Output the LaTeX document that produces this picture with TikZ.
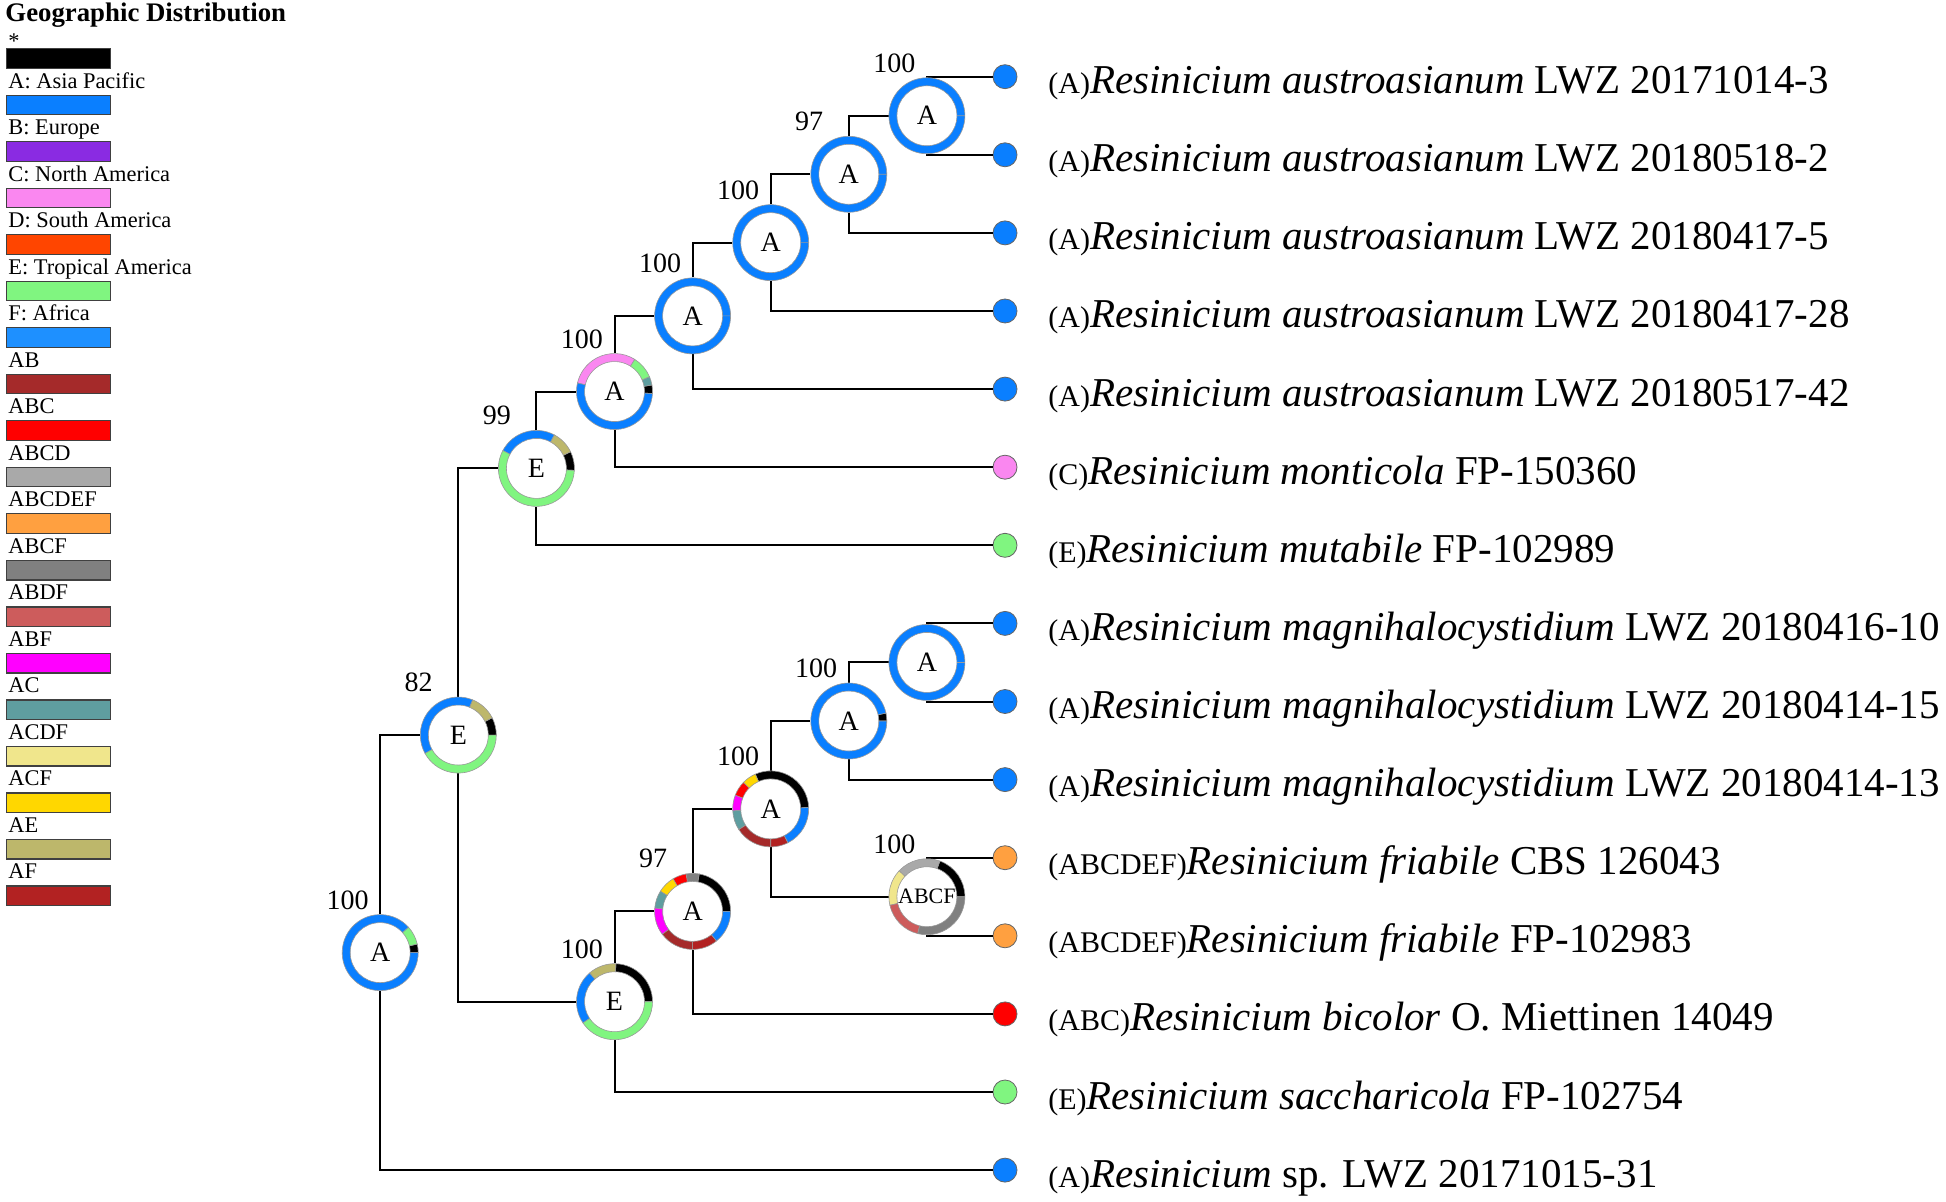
\documentclass[tikz,border=0pt]{standalone}
\usepackage{fontspec}
\setmainfont{Liberation Serif}
\usetikzlibrary{calc}
\definecolor{colA}{RGB}{10,127,255}
\definecolor{colB}{RGB}{138,43,226}
\definecolor{colC}{RGB}{250,135,240}
\definecolor{colD}{RGB}{255,69,0}
\definecolor{colE}{RGB}{128,245,128}
\definecolor{colF}{RGB}{30,144,255}
\definecolor{colAB}{RGB}{165,42,42}
\definecolor{colABC}{RGB}{255,0,0}
\definecolor{colABCD}{RGB}{169,169,169}
\definecolor{colABCDEF}{RGB}{255,160,64}
\definecolor{colABCF}{RGB}{128,128,128}
\definecolor{colABDF}{RGB}{205,92,92}
\definecolor{colABF}{RGB}{255,0,255}
\definecolor{colAC}{RGB}{95,158,160}
\definecolor{colACDF}{RGB}{240,230,140}
\definecolor{colACF}{RGB}{255,215,0}
\definecolor{colAE}{RGB}{189,183,107}
\definecolor{colAF}{RGB}{178,34,34}
\def\ringseg[#1](#2)(#3:#4){\fill[#1,draw=black!40,line width=0.3pt] ($(#2)+(#3:19pt)$) arc (#3:#4:19pt) -- ($(#2)+(#4:15pt)$) arc (#4:#3:15pt) -- cycle;}
\newcommand{\reg}[1]{{\fontsize{15}{15}\selectfont(#1)}}

\begin{document}
\begin{tikzpicture}[x=0.5pt,y=-0.5pt,
	branch/.style={line width=1pt,black},
	anc/.style={circle,fill=white,inner sep=0pt,minimum size=38pt,font=\fontsize{14}{14}\selectfont},
	tip/.style={circle,draw=black!60,line width=0.4pt,inner sep=0pt,minimum size=12pt},
	bs/.style={anchor=base west,inner sep=0pt,font=\fontsize{14}{14}\selectfont},
	tiplab/.style={anchor=base west,inner sep=0pt,font=\fontsize{20.5}{20.5}\selectfont},
	legbar/.style={draw=black!75,line width=0.6pt,inner sep=0pt,minimum width=52pt,minimum height=9.75pt,anchor=north west},
	leglab/.style={anchor=base west,inner sep=0pt,font=\fontsize{11.2}{12}\selectfont}]
		%%%%% LEGEND %%%%%
		\useasboundingbox (0,0) rectangle (1946,1202);
		
		\node[anchor=base west,inner sep=0pt,font=\bfseries\fontsize{13.4}{14}\selectfont] (legtitle) at (5,21.7) {Geographic Distribution};
		\foreach \lab/\col [count=\i from 0] in {{\raisebox{-3.5pt}{*}}/black,A: Asia Pacific/colA,B: Europe/colB,C: North America/colC,D: South America/colD,E: Tropical America/colE,F: Africa/colF,AB/colAB,ABC/colABC,ABCD/colABCD,ABCDEF/colABCDEF,ABCF/colABCF,ABDF/colABDF,ABF/colABF,AC/colAC,ACDF/colACDF,ACF/colACF,AE/colAE,AF/colAF}{
			\node[legbar,fill=\col] (bar\i) at (6,{48.3+46.5*\i}) {};
			\node[leglab] (leg\i) at (8,{41.6+46.5*\i}) {\lab};
		}
		
		%%%%% TIPS %%%%%
		\node[tip,fill=colA] (t0) at (1005,76.7) {};
		\node[tip,fill=colA] (t1) at (1005,154.8) {};
		\node[tip,fill=colA] (t2) at (1005,232.9) {};
		\node[tip,fill=colA] (t3) at (1005,311.0) {};
		\node[tip,fill=colA] (t4) at (1005,389.1) {};
		\node[tip,fill=colC] (t5) at (1005,467.2) {};
		\node[tip,fill=colE] (t6) at (1005,545.3) {};
		\node[tip,fill=colA] (t7) at (1005,623.4) {};
		\node[tip,fill=colA] (t8) at (1005,701.5) {};
		\node[tip,fill=colA] (t9) at (1005,779.6) {};
		\node[tip,fill=colABCDEF] (t10) at (1005,857.7) {};
		\node[tip,fill=colABCDEF] (t11) at (1005,935.8) {};
		\node[tip,fill=colABC] (t12) at (1005,1013.9) {};
		\node[tip,fill=colE] (t13) at (1005,1092.0) {};
		\node[tip,fill=colA] (t14) at (1005,1170.1) {};
		
		\node[tiplab] (l0) at ([shift={(21.5pt,-8.5pt)}]t0.center) {\reg{A}\textit{Resinicium austroasianum} LWZ 20171014-3};
		\node[tiplab] (l1) at ([shift={(21.5pt,-8.5pt)}]t1.center) {\reg{A}\textit{Resinicium austroasianum} LWZ 20180518-2};
		\node[tiplab] (l2) at ([shift={(21.5pt,-8.5pt)}]t2.center) {\reg{A}\textit{Resinicium austroasianum} LWZ 20180417-5};
		\node[tiplab] (l3) at ([shift={(21.5pt,-8.5pt)}]t3.center) {\reg{A}\textit{Resinicium austroasianum} LWZ 20180417-28};
		\node[tiplab] (l4) at ([shift={(21.5pt,-8.5pt)}]t4.center) {\reg{A}\textit{Resinicium austroasianum} LWZ 20180517-42};
		\node[tiplab] (l5) at ([shift={(21.5pt,-8.5pt)}]t5.center) {\reg{C}\textit{Resinicium monticola} FP-150360};
		\node[tiplab] (l6) at ([shift={(21.5pt,-8.5pt)}]t6.center) {\reg{E}\textit{Resinicium mutabile} FP-102989};
		\node[tiplab] (l7) at ([shift={(21.5pt,-8.5pt)}]t7.center) {\reg{A}\textit{Resinicium magnihalocystidium} LWZ 20180416-10};
		\node[tiplab] (l8) at ([shift={(21.5pt,-8.5pt)}]t8.center) {\reg{A}\textit{Resinicium magnihalocystidium} LWZ 20180414-15};
		\node[tiplab] (l9) at ([shift={(21.5pt,-8.5pt)}]t9.center) {\reg{A}\textit{Resinicium magnihalocystidium} LWZ 20180414-13};
		\node[tiplab] (l10) at ([shift={(21.5pt,-8.5pt)}]t10.center) {\reg{ABCDEF}\textit{Resinicium friabile} CBS 126043};
		\node[tiplab] (l11) at ([shift={(21.5pt,-8.5pt)}]t11.center) {\reg{ABCDEF}\textit{Resinicium friabile} FP-102983};
		\node[tiplab] (l12) at ([shift={(21.5pt,-8.5pt)}]t12.center) {\reg{ABC}\textit{Resinicium bicolor} O. Miettinen 14049};
		\node[tiplab] (l13) at ([shift={(21.5pt,-8.5pt)}]t13.center) {\reg{E}\textit{Resinicium saccharicola} FP-102754};
		\node[tiplab] (l14) at ([shift={(21.5pt,-8.5pt)}]t14.center) {\reg{A}\textit{Resinicium} sp. LWZ 20171015-31};
		
		%%%%% ANCESTRAL NODES %%%%%
		\node[anc] (aus1) at (926.9,115.75) {A};
		\node[anc] (aus2) at (848.8,174.3) {A};
		\node[anc] (aus3) at (770.7,242.65) {A};
		\node[anc] (aus4) at (692.6,315.9) {A};
		\node[anc] (monA) at (614.5,391.55) {A};
		\node[anc] (mutE) at (536.4,468.4) {E};
		\node[anc] (magA) at (926.9,662.45) {A};
		\node[anc] (magB) at (848.8,721.0) {A};
		\node[anc,font=\fontsize{11}{11}\selectfont] (abcf) at (926.9,896.75) {ABCF};
		\node[anc] (friA) at (770.7,808.9) {A};
		\node[anc] (bicA) at (692.6,911.4) {A};
		\node[anc] (sacE) at (614.5,1001.7) {E};
		\node[anc] (midE) at (458.3,735.05) {E};
		\node[anc] (root) at (380.2,952.6) {A};
		
		\draw[branch] (aus1) |- (t0);
		\draw[branch] (aus1) |- (t1);
		\draw[branch] (aus2) |- (aus1);
		\draw[branch] (aus2) |- (t2);
		\draw[branch] (aus3) |- (aus2);
		\draw[branch] (aus3) |- (t3);
		\draw[branch] (aus4) |- (aus3);
		\draw[branch] (aus4) |- (t4);
		\draw[branch] (monA) |- (aus4);
		\draw[branch] (monA) |- (t5);
		\draw[branch] (mutE) |- (monA);
		\draw[branch] (mutE) |- (t6);
		\draw[branch] (magA) |- (t7);
		\draw[branch] (magA) |- (t8);
		\draw[branch] (magB) |- (magA);
		\draw[branch] (magB) |- (t9);
		\draw[branch] (abcf) |- (t10);
		\draw[branch] (abcf) |- (t11);
		\draw[branch] (friA) |- (magB);
		\draw[branch] (friA) |- (abcf);
		\draw[branch] (bicA) |- (friA);
		\draw[branch] (bicA) |- (t12);
		\draw[branch] (sacE) |- (bicA);
		\draw[branch] (sacE) |- (t13);
		\draw[branch] (midE) |- (mutE);
		\draw[branch] (midE) |- (sacE);
		\draw[branch] (root) |- (midE);
		\draw[branch] (root) |- (t14);
		
		%%%%% RINGS %%%%%
		\foreach \n in {aus1,aus2,aus3,aus4,magA}{\ringseg[colA](\n)(0:360)}
		\foreach \a/\b/\c in {-3/10/black,10/23/colAC,23/58/colE,58/167/colC,167/357/colA}{\ringseg[\c](monA)(\a:\b)}
		\foreach \a/\b/\c in {-3/26/black,26/62/colAE,62/152/colA,152/357/colE}{\ringseg[\c](mutE)(\a:\b)}
		\foreach \a/\b/\c in {0/27/black,27/68/colAE,68/209/colA,209/360/colE}{\ringseg[\c](midE)(\a:\b)}
		\foreach \a/\b/\c in {0/13/black,13/42/colE,42/360/colA}{\ringseg[\c](root)(\a:\b)}
		\foreach \a/\b/\c in {0/88/black,88/131/colAE,131/214/colA,214/360/colE}{\ringseg[\c](sacE)(\a:\b)}
		\foreach \a/\b/\c in {0/80/black,80/100/colABCF,100/121/colABC,121/148/colACF,148/175/colAC,175/217/colABF,217/270/colAB,270/309/colAF,309/360/colA}{\ringseg[\c](bicA)(\a:\b)}
		\foreach \a/\b/\c in {2/114/black,114/136/colACF,136/159/colABC,159/183/colABF,183/213/colAC,213/270/colAB,270/297/colAF,297/362/colA}{\ringseg[\c](friA)(\a:\b)}
		\foreach \a/\b/\c in {0/12/black,12/360/colA}{\ringseg[\c](magB)(\a:\b)}
		\foreach \a/\b/\c in {0/70/black,70/137/colABCD,137/193/colACDF,193/256/colABDF,256/360/colABCF}{\ringseg[\c](abcf)(\a:\b)}
		
		%%%%% SUPPORT %%%%%
		\node[bs] (s1) at ([shift={(-27pt,21.75pt)}]aus1.center) {100};
		\node[bs] (s2) at ([shift={(-27pt,21.75pt)}]aus2.center) {97};
		\node[bs] (s3) at ([shift={(-27pt,21.75pt)}]aus3.center) {100};
		\node[bs] (s4) at ([shift={(-27pt,21.75pt)}]aus4.center) {100};
		\node[bs] (s5) at ([shift={(-27pt,21.75pt)}]monA.center) {100};
		\node[bs] (s6) at ([shift={(-27pt,21.75pt)}]mutE.center) {99};
		\node[bs] (s7) at ([shift={(-27pt,21.75pt)}]magB.center) {100};
		\node[bs] (s8) at ([shift={(-27pt,21.75pt)}]abcf.center) {100};
		\node[bs] (s9) at ([shift={(-27pt,21.75pt)}]friA.center) {100};
		\node[bs] (s10) at ([shift={(-27pt,21.75pt)}]bicA.center) {97};
		\node[bs] (s11) at ([shift={(-27pt,21.75pt)}]sacE.center) {100};
		\node[bs] (s12) at ([shift={(-27pt,21.75pt)}]midE.center) {82};
		\node[bs] (s13) at ([shift={(-27pt,21.75pt)}]root.center) {100};
		
	\end{tikzpicture}
\end{document}
